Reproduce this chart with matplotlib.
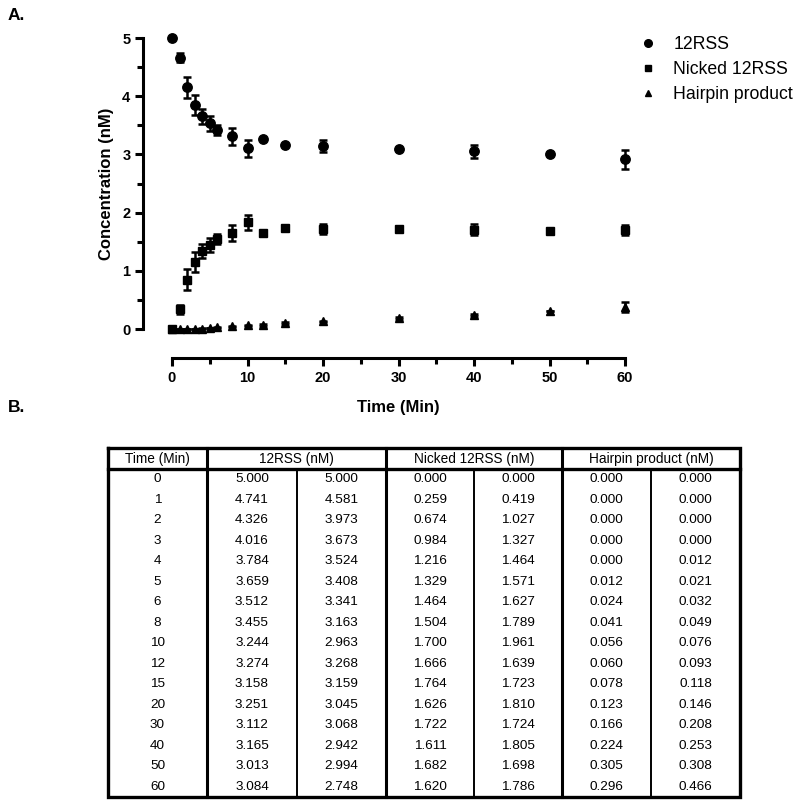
import numpy as np
import matplotlib.pyplot as plt
from matplotlib.lines import Line2D

plt.rcParams['font.family'] = ['Liberation Sans', 'DejaVu Sans']

time_min = [0, 1, 2, 3, 4, 5, 6, 8, 10, 12, 15, 20, 30, 40, 50, 60]
rss_a = [5.000, 4.741, 4.326, 4.016, 3.784, 3.659, 3.512, 3.455, 3.244, 3.274, 3.158, 3.251, 3.112, 3.165, 3.013, 3.084]
rss_b = [5.000, 4.581, 3.973, 3.673, 3.524, 3.408, 3.341, 3.163, 2.963, 3.268, 3.159, 3.045, 3.068, 2.942, 2.994, 2.748]
nick_a = [0.000, 0.259, 0.674, 0.984, 1.216, 1.329, 1.464, 1.504, 1.700, 1.666, 1.764, 1.626, 1.722, 1.611, 1.682, 1.620]
nick_b = [0.000, 0.419, 1.027, 1.327, 1.464, 1.571, 1.627, 1.789, 1.961, 1.639, 1.723, 1.810, 1.724, 1.805, 1.698, 1.786]
hp_a = [0.000, 0.000, 0.000, 0.000, 0.000, 0.012, 0.024, 0.041, 0.056, 0.060, 0.078, 0.123, 0.166, 0.224, 0.305, 0.296]
hp_b = [0.000, 0.000, 0.000, 0.000, 0.012, 0.021, 0.032, 0.049, 0.076, 0.093, 0.118, 0.146, 0.208, 0.253, 0.308, 0.466]

series = [("12RSS", rss_a, rss_b, 'o', 6.8),
          ("Nicked 12RSS", nick_a, nick_b, 's', 6.0),
          ("Hairpin product", hp_a, hp_b, '^', 6.3)]
headers = ["Time (Min)", "12RSS (nM)", "Nicked 12RSS (nM)", "Hairpin product (nM)"]

W, H = 800, 809
fig = plt.figure(figsize=(W / 100, H / 100), dpi=100)

# plot area: x 0..60 -> px 172..625, y 0..5 -> px 329..38
ax = fig.add_axes([172 / W, 1 - 329 / H, (625 - 172) / W, (329 - 38) / H])
t = np.array(time_min)
handles = []
for name, a, b, mk, ms in series:
    a, b = np.array(a), np.array(b)
    mean = (a + b) / 2
    sem = np.abs(a - b) / 2
    ax.errorbar(t, mean, yerr=sem, fmt='none', ecolor='black', elinewidth=1.8,
                capsize=3.2, capthick=1.8, clip_on=False, zorder=2)
    ax.plot(t, mean, linestyle='none', marker=mk, ms=ms, color='black',
            clip_on=False, zorder=3)
    handles.append(Line2D([], [], linestyle='none', marker=mk, ms=ms - 1.3, color='black', label=name))

ax.set_xlim(0, 60)
ax.set_ylim(0, 5)
for s in ['top', 'right']:
    ax.spines[s].set_visible(False)
ax.spines['left'].set_position(('outward', 21))
ax.spines['bottom'].set_position(('outward', 21))
ax.spines['left'].set_linewidth(2.2)
ax.spines['bottom'].set_linewidth(2.2)
ax.set_xticks(range(0, 61, 10))
ax.set_xticks(range(5, 60, 10), minor=True)
ax.set_yticks(range(0, 6))
ax.set_yticks(np.arange(0.5, 5, 1.0), minor=True)
ax.tick_params(which='major', length=6, width=2.2, labelsize=10.5, pad=3)
ax.tick_params(which='minor', length=4, width=2.2)
for lab in ax.get_xticklabels() + ax.get_yticklabels():
    lab.set_fontweight('bold')
ax.set_xlabel("Time (Min)", fontsize=12, fontweight='bold', labelpad=11)
ax.set_ylabel("Concentration (nM)", fontsize=12, fontweight='bold', labelpad=6)

fig.legend(handles=handles, loc='upper left', bbox_to_anchor=(632 / W, 1 - 29 / H),
           frameon=False, fontsize=12.7, handlelength=1.0, handletextpad=0.95,
           labelspacing=0.45, borderaxespad=0)

fig.text(8 / W, 1 - 16 / H, "A.", fontsize=12.5, fontweight='bold', va='center')
fig.text(8 / W, 1 - 407 / H, "B.", fontsize=12.5, fontweight='bold', va='center')

# table drawn in pixel coordinates
tx = fig.add_axes([0, 0, 1, 1])
tx.set_xlim(0, W)
tx.set_ylim(H, 0)
tx.axis('off')
cols = [108, 207, 297, 386, 474, 562, 651, 740]
top, head_bot, bot = 448, 469, 797
row_h = (bot - head_bot) / len(time_min)

tx.plot([cols[0], cols[-1], cols[-1], cols[0], cols[0]], [top, top, bot, bot, top],
        color='black', lw=2.4, solid_joinstyle='miter')
tx.plot([cols[0], cols[-1]], [head_bot, head_bot], color='black', lw=2.4)
for i in (1, 3, 5):
    tx.plot([cols[i], cols[i]], [top, bot], color='black', lw=2.2)
for i in (2, 4, 6):
    tx.plot([cols[i], cols[i]], [head_bot, bot], color='black', lw=1.4)

header_x = [(cols[0] + cols[1]) / 2, (cols[1] + cols[3]) / 2,
            (cols[3] + cols[5]) / 2, (cols[5] + cols[7]) / 2]
for x, h in zip(header_x, headers):
    tx.text(x, (top + head_bot) / 2, h, ha='center', va='center', fontsize=9.8)

cell_x = [(cols[i] + cols[i + 1]) / 2 for i in range(7)]
for r, tm in enumerate(time_min):
    y = head_bot + (r + 0.5) * row_h
    vals = [str(tm), rss_a[r], rss_b[r], nick_a[r], nick_b[r], hp_a[r], hp_b[r]]
    for x, v in zip(cell_x, vals):
        s = v if isinstance(v, str) else f"{v:.3f}"
        tx.text(x, y, s, ha='center', va='center', fontsize=9.7)

fig.savefig("out.png", dpi=100)
